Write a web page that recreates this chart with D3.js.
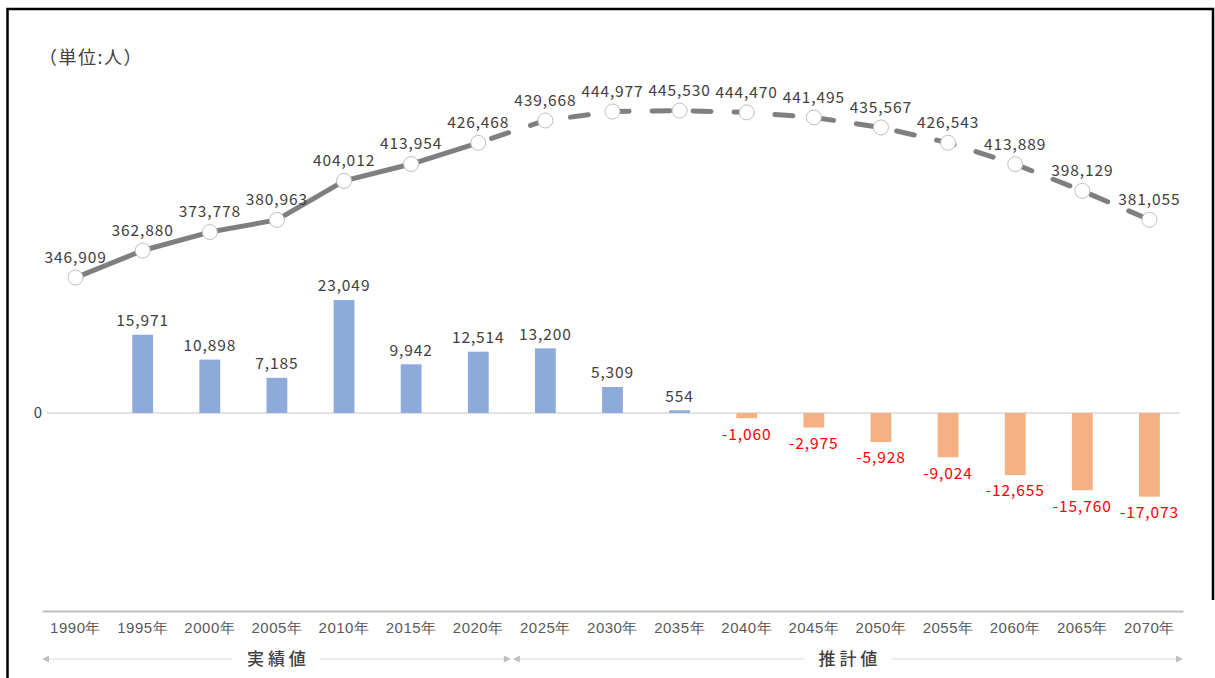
<!DOCTYPE html>
<html>
<head>
<meta charset="utf-8">
<script src="https://cdn.jsdelivr.net/npm/d3@7"></script>
<style>
  html, body { margin: 0; padding: 0; background: #fff; }
  svg { display: block; font-family: "Noto Sans CJK JP", "Noto Sans", sans-serif; }
  .val { font-size: 15.5px; fill: #404040; letter-spacing: 0.9px; }
  .val.neg { fill: #ff0000; }
  .tick-label { font-size: 15px; fill: #595959; letter-spacing: 0.5px; }
</style>
</head>
<body>
<svg id="chart" width="1215" height="678"></svg>
<script>
const years = ["1990年", "1995年", "2000年", "2005年", "2010年", "2015年", "2020年", "2025年", "2030年",
  "2035年", "2040年", "2045年", "2050年", "2055年", "2060年", "2065年", "2070年"];
const population = [346909, 362880, 373778, 380963, 404012, 413954, 426468, 439668, 444977,
  445530, 444470, 441495, 435567, 426543, 413889, 398129, 381055];
const change = [null, 15971, 10898, 7185, 23049, 9942, 12514, 13200, 5309,
  554, -1060, -2975, -5928, -9024, -12655, -15760, -17073];
const actualCount = 7; // 1990〜2020 は実績値
const periodLabels = ["実 績 値", "推 計 値"];
const unitLabel = "（単位:人）";

const svg = d3.select("#chart");
const fmt = (v) => d3.format(",")(v).replace("−", "-");

// frame
svg.append("path")
  .attr("d", "M7.5,678 V9 H1213 V600")
  .attr("fill", "none")
  .attr("stroke", "#000")
  .attr("stroke-width", 2.5);

const x = d3.scaleBand().domain(years).range([42, 1183]).paddingInner(0.69).paddingOuter(0.345);
const cx = (d) => x(d) + x.bandwidth() / 2;
const yBar = d3.scaleLinear().domain([-40000, 40000]).range([609, 217]);
const yLine = d3.scaleLinear().domain([150000, 450000]).range([611, 103]);

svg.append("text")
  .attr("x", 39).attr("y", 64)
  .attr("font-size", 18).attr("fill", "#404040").attr("letter-spacing", 1.5)
  .text(unitLabel);

// zero line
svg.append("line")
  .attr("x1", 47).attr("x2", 1180)
  .attr("y1", yBar(0)).attr("y2", yBar(0))
  .attr("stroke", "#d9d9d9").attr("stroke-width", 1.5);
svg.append("text")
  .attr("x", 38).attr("y", yBar(0)).attr("dy", "0.35em")
  .attr("text-anchor", "middle").attr("font-size", 15).attr("fill", "#404040")
  .text("0");

// bars
const barData = years.map((yr, i) => ({ yr, v: change[i] })).filter((d) => d.v !== null);
svg.selectAll(".bar")
  .data(barData)
  .join("rect")
  .attr("class", "bar")
  .attr("x", (d) => x(d.yr))
  .attr("width", x.bandwidth())
  .attr("y", (d) => yBar(Math.max(0, d.v)))
  .attr("height", (d) => Math.abs(yBar(d.v) - yBar(0)))
  .attr("fill", (d) => (d.v >= 0 ? "#8eaadb" : "#f4b183"));

svg.selectAll(".bar-label")
  .data(barData)
  .join("text")
  .attr("class", (d) => "val" + (d.v < 0 ? " neg" : ""))
  .attr("x", (d) => cx(d.yr))
  .attr("y", (d) => (d.v >= 0 ? yBar(d.v) - 14 : yBar(d.v) + 16))
  .attr("dy", "0.35em")
  .attr("text-anchor", "middle")
  .text((d) => fmt(d.v));

// x axis
const axis = svg.append("g").attr("transform", "translate(0,611)")
  .call(d3.axisBottom(x).tickSize(0).tickPadding(11));
axis.select(".domain").attr("stroke", "#bfbfbf").attr("stroke-width", 2);
axis.selectAll(".tick text").attr("class", "tick-label").attr("font-family", null).attr("font-size", null).attr("fill", null);

// population line
const pts = years.map((yr, i) => ({ yr, v: population[i], i }));
const line = d3.line().x((d) => cx(d.yr)).y((d) => yLine(d.v));
svg.append("path")
  .datum(pts.slice(0, actualCount))
  .attr("d", line)
  .attr("fill", "none").attr("stroke", "#7f7f7f").attr("stroke-width", 5)
  .attr("stroke-linejoin", "round");
svg.append("path")
  .datum(pts.slice(actualCount - 1))
  .attr("d", line)
  .attr("fill", "none").attr("stroke", "#7f7f7f").attr("stroke-width", 5)
  .attr("stroke-linecap", "round")
  .attr("stroke-dasharray", "18 23")
  .attr("stroke-dashoffset", -14);

svg.selectAll(".marker")
  .data(pts)
  .join("circle")
  .attr("cx", (d) => cx(d.yr))
  .attr("cy", (d) => yLine(d.v))
  .attr("r", 7.5)
  .attr("fill", "#fff")
  .attr("stroke", "#bfbfbf");

svg.selectAll(".line-label")
  .data(pts)
  .join("text")
  .attr("class", "val")
  .attr("x", (d) => cx(d.yr))
  .attr("y", (d) => Math.max(yLine(d.v) - 20, 89))
  .attr("dy", "0.35em")
  .attr("text-anchor", "middle")
  .text((d) => fmt(d.v));

// period arrows
const split = (cx(years[actualCount - 1]) + cx(years[actualCount])) / 2;
const spans = [[42, split - 1], [split + 1, 1183]];
const arrowY = 659;
spans.forEach(([a, b], k) => {
  const mid = (a + b) / 2;
  const half = 44;
  svg.append("line").attr("x1", a + 6).attr("x2", mid - half).attr("y1", arrowY).attr("y2", arrowY)
    .attr("stroke", "#d9d9d9").attr("stroke-width", 1.2);
  svg.append("line").attr("x1", mid + half).attr("x2", b - 6).attr("y1", arrowY).attr("y2", arrowY)
    .attr("stroke", "#d9d9d9").attr("stroke-width", 1.2);
  svg.append("path").attr("d", `M${a},${arrowY} l7,-3.5 v7 z`).attr("fill", "#bfbfbf");
  svg.append("path").attr("d", `M${b},${arrowY} l-7,-3.5 v7 z`).attr("fill", "#bfbfbf");
  svg.append("text")
    .attr("x", mid).attr("y", arrowY).attr("dy", "0.36em")
    .attr("text-anchor", "middle").attr("font-size", 17).attr("font-weight", 500)
    .attr("fill", "#404040")
    .text(periodLabels[k]);
});
</script>
</body>
</html>
